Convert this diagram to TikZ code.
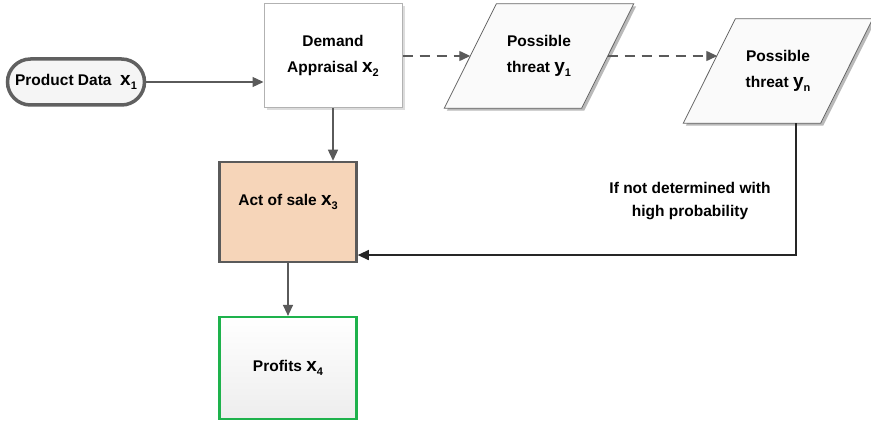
\documentclass[tikz,border=0pt]{standalone}
\usepackage{fontspec}
\setmainfont{Liberation Sans}
\usepackage{tikz}
\usetikzlibrary{arrows.meta,calc,shadows,backgrounds}

\definecolor{linegray}{HTML}{5A5A5A}
\definecolor{salefill}{HTML}{F6D5B9}
\definecolor{profitgreen}{HTML}{1EB24C}

\newcommand{\vsym}[2]{{\fontsize{19}{19}\selectfont #1}\raisebox{-4pt}{\fontsize{11}{11}\selectfont #2}}

\begin{document}
\begin{tikzpicture}[x=1pt,y=-1pt,
  every node/.style={font=\fontsize{15.5}{26}\selectfont\bfseries,align=center},
  flow/.style={draw=linegray,line width=1.3pt,-{Triangle[length=11pt,width=10pt]}},
  dashflow/.style={flow,dash pattern=on 10pt off 7pt},
  shade box/.style={drop shadow={shadow xshift=2.5pt,shadow yshift=-2.5pt,fill=gray!55}},
  threat/.style={minimum width=137pt,minimum height=104pt},
  threatline/.style={draw=gray!80!black,line width=0.8pt,fill=gray!4}]

\useasboundingbox (0,0) rectangle (871,422);

% Start
\node[draw=gray!75!black,line width=3.5pt,rounded corners=23pt,fill=gray!8,
  minimum width=137pt,minimum height=46pt] (prod) at (76,82) {Product Data~~\vsym{x}{1}};

% Demand
\node[draw=gray!60,line width=1pt,fill=white,shade box,
  minimum width=138pt,minimum height=104pt] (dem) at (333,56) {Demand\\Appraisal \vsym{x}{2}};

% Threats
\node[threat] (y1) at (539,56) {Possible\\threat \vsym{y}{1}};
\node[threat] (yn) at (778,71) {Possible\\threat \vsym{y}{n}};

\begin{scope}[on background layer]
\foreach \t in {y1,yn}{
  \fill[gray!55] ($(\t.south west)+(-23.5,2.5)$) -- ($(\t.south east)+(-23.5,2.5)$)
    -- ($(\t.north east)+(28.5,2.5)$) -- ($(\t.north west)+(28.5,2.5)$) -- cycle;
  \draw[threatline] ($(\t.south west)+(-26,0)$) -- ($(\t.south east)+(-26,0)$)
    -- ($(\t.north east)+(26,0)$) -- ($(\t.north west)+(26,0)$) -- cycle;
}
\end{scope}

% Sale and profits
\node[draw=linegray,line width=2.5pt,fill=salefill,text height=11pt,text depth=23pt,
  minimum width=137pt,minimum height=100pt] (act) at (288,212) {Act of sale \vsym{x}{3}};
\node[draw=profitgreen,line width=2.2pt,top color=white,bottom color=gray!14,
  minimum width=137pt,minimum height=102pt] (prof) at (288,368) {Profits \vsym{x}{4}};

\coordinate (ynleft) at ($(yn.west)+(8,-16)$);
\coordinate (ynfoot) at ($(yn.south)+(18,0)$);
\coordinate (actin) at ($(act.south east)!0.08!(act.north east)$);

% Connectors
\draw[flow] (prod.east) -- (prod.east -| dem.west);
\draw[dashflow] (dem.east) -- (y1.west);
\draw[dashflow] (y1.east) -- (y1.east -| ynleft);
\draw[flow] (dem.south) -- (dem.south |- act.north);
\draw[flow] (act) -- (prof);
\draw[flow,draw=black!85] (ynfoot) |- (actin);

\node[font=\fontsize{15.5}{23}\selectfont\bfseries] (cond) at (690,201) {If not determined with\\high probability};

\end{tikzpicture}
\end{document}
